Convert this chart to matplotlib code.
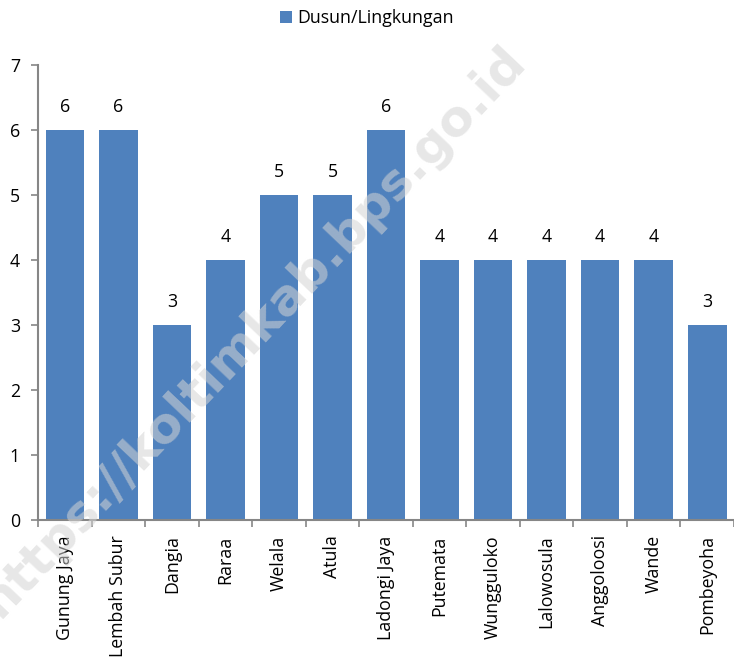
import numpy as np
import matplotlib as mpl
from matplotlib import pyplot as plt

# jumlah dusun/lingkungan per desa/kelurahan
desa = ['Gunung Jaya', 'Lembah Subur', 'Dangia', 'Raraa', 'Welala', 'Atula',
        'Ladongi Jaya', 'Putemata', 'Wungguloko', 'Lalowosula', 'Anggoloosi',
        'Wande', 'Pombeyoha']
jumlah = [6, 6, 3, 4, 5, 5, 6, 4, 4, 4, 4, 4, 3]
yTicks = [0, 1, 2, 3, 4, 5, 6, 7]
seriesName = 'Dusun/Lingkungan'
watermark = 'https://koltimkab.bps.go.id'

mpl.rc('font', **{'family': 'sans-serif', 'sans-serif': ['Open Sans'], 'size': 12.8})
axisColor = '#868686'
barColor = '#4F81BD'

f = plt.figure(figsize = (7.34, 6.62), dpi = 100)
ax1 = f.add_axes([0.0518, 0.2145, 0.9482, 0.6873])

x = np.arange(len(desa))
bars = ax1.bar(x, jumlah, width = 0.72, color = barColor, zorder = 2,
               label = seriesName)

for xi, v in zip(x, jumlah):
    ax1.annotate(str(v), xy = (xi, v), xytext = (0, 10),
                 textcoords = 'offset points', ha = 'center', va = 'bottom',
                 color = 'black')

ax1.set_xlim(-0.5, len(desa) - 0.5)
ax1.set_ylim(0, 7)
ax1.set_yticks(yTicks)

# category ticks sit between the bars, labels at bar centres
ax1.set_xticks(np.arange(len(desa) + 1) - 0.5)
ax1.set_xticklabels([])
ax1.set_xticks(x, minor = True)
ax1.set_xticklabels(desa, minor = True, rotation = 90)
ax1.tick_params(axis = 'x', which = 'minor', length = 0, pad = 11)
ax1.tick_params(axis = 'x', which = 'major', length = 5, width = 1.2,
                color = axisColor, direction = 'out')
ax1.tick_params(axis = 'y', length = 5, width = 1.2, color = axisColor,
                direction = 'out', pad = 8)

for side in ['top', 'right']:
    ax1.spines[side].set_visible(False)
for side in ['left', 'bottom']:
    ax1.spines[side].set_color(axisColor)
    ax1.spines[side].set_linewidth(1.5)

leg = f.legend(handles = [bars], labels = [seriesName], loc = 'upper center',
               bbox_to_anchor = (0.5, 1.01), frameon = False,
               handlelength = 0.7, handleheight = 0.7, handletextpad = 0.3)

f.text(0.345, 0.50, watermark, rotation = 46.5, ha = 'center', va = 'center',
       fontsize = 36, fontweight = 'bold', family = 'DejaVu Sans',
       color = '#d4d4d4', alpha = 0.55, zorder = 10)

f.savefig('out.png', dpi = 100)
plt.close()
